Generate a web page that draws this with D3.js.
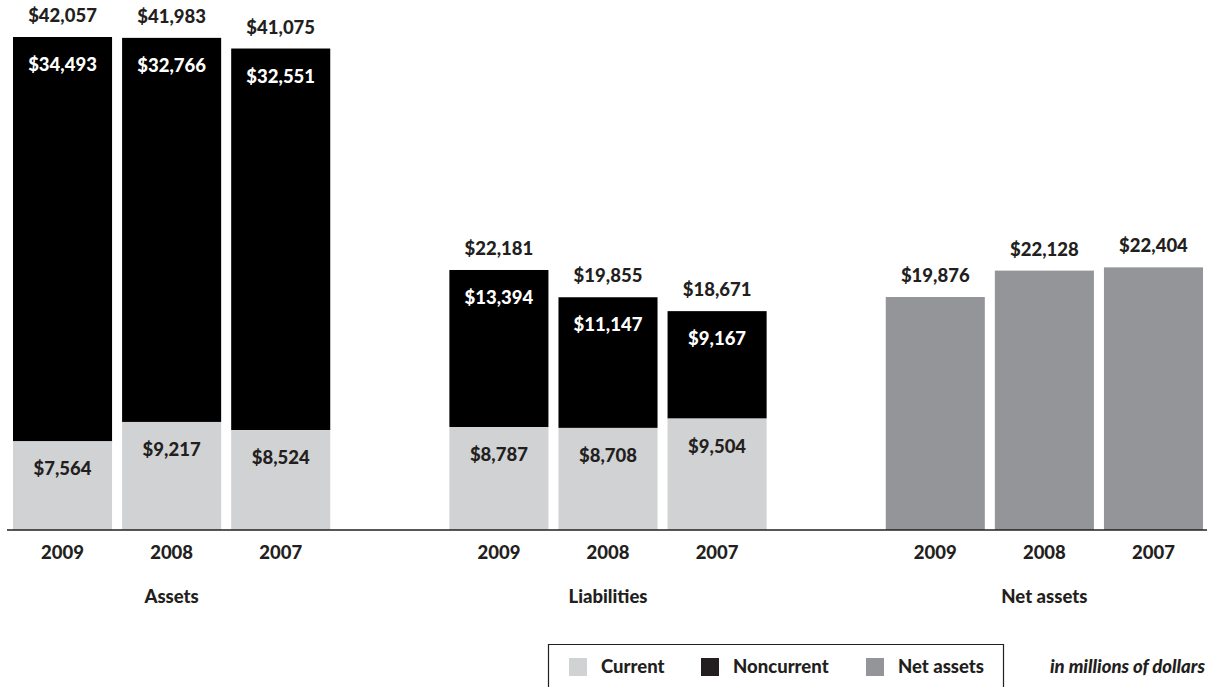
<!DOCTYPE html>
<html lang="en">
<head>
  <meta charset="utf-8">
  <title>Assets, liabilities and net assets</title>
  <script src="https://d3js.org/d3.v7.min.js"></script>
  <style>
    body { margin: 0; background: #fff; }
    text { font-family: Lato, "Open Sans", sans-serif; font-weight: 900; fill: #231f20; }
  </style>
</head>
<body>
<script>
// values (in millions of dollars)
var groups = ['Assets', 'Liabilities', 'Net assets'];
var years = ['2009', '2008', '2007'];
var assetsCurrent = [7564, 9217, 8524];
var assetsNoncurrent = [34493, 32766, 32551];
var assetsTotal = [42057, 41983, 41075];
var liabCurrent = [8787, 8708, 9504];
var liabNoncurrent = [13394, 11147, 9167];
var liabTotal = [22181, 19855, 18671];
var netAssets = [19876, 22128, 22404];
var legendItems = ['Current', 'Noncurrent', 'Net assets'];

var w = 1217, h = 687;
var colCurrent = '#d1d2d4', colNon = '#000000', colNet = '#939598';
var fmt = d3.format('$,');
var fs = '18.5px';

var svg = d3.select('body').append('svg')
  .attr('width', w)
  .attr('height', h);

// outer scale for the three groups, inner scale for the years
var x0 = d3.scaleBand().domain(groups).range([13, 1203]).paddingInner(0.273);
var x1 = d3.scaleBand().domain(years).range([0, x0.bandwidth()]).paddingInner(0.092);

var y = d3.scaleLinear().domain([0, 42057]).range([530, 37]);
var base = y(0);

// stacked groups
var stacked = [
  { group: 'Assets', cur: assetsCurrent, non: assetsNoncurrent, tot: assetsTotal },
  { group: 'Liabilities', cur: liabCurrent, non: liabNoncurrent, tot: liabTotal }
];

stacked.forEach(function(s) {
  var g = svg.append('g').attr('transform', 'translate(' + x0(s.group) + ',0)');
  years.forEach(function(yr, i) {
    var bx = x1(yr), bw = x1.bandwidth();
    var cx = bx + bw / 2;
    // noncurrent sits on top of current
    g.append('rect')
      .attr('x', bx).attr('width', bw)
      .attr('y', y(s.tot[i]))
      .attr('height', y(s.cur[i]) - y(s.tot[i]))
      .attr('fill', colNon);
    g.append('rect')
      .attr('x', bx).attr('width', bw)
      .attr('y', y(s.cur[i]))
      .attr('height', base - y(s.cur[i]))
      .attr('fill', colCurrent);
    g.append('text')
      .attr('x', cx).attr('y', y(s.tot[i]) - 15)
      .attr('text-anchor', 'middle').style('font-size', fs)
      .text(fmt(s.tot[i]));
    g.append('text')
      .attr('x', cx).attr('y', y(s.tot[i]) + 34)
      .attr('text-anchor', 'middle').style('font-size', fs)
      .style('fill', '#fff')
      .text(fmt(s.non[i]));
    g.append('text')
      .attr('x', cx).attr('y', y(s.cur[i]) + 34)
      .attr('text-anchor', 'middle').style('font-size', fs)
      .text(fmt(s.cur[i]));
  });
});

// net assets, plain bars
var gn = svg.append('g').attr('transform', 'translate(' + x0('Net assets') + ',0)');
gn.selectAll('rect')
  .data(netAssets)
  .enter()
  .append('rect')
  .attr('x', function(d, i) { return x1(years[i]); })
  .attr('width', x1.bandwidth())
  .attr('y', function(d) { return y(d); })
  .attr('height', function(d) { return base - y(d); })
  .attr('fill', colNet);
gn.selectAll('text')
  .data(netAssets)
  .enter()
  .append('text')
  .attr('x', function(d, i) { return x1(years[i]) + x1.bandwidth() / 2; })
  .attr('y', function(d) { return y(d) - 15; })
  .attr('text-anchor', 'middle')
  .style('font-size', fs)
  .text(function(d) { return fmt(d); });

// baseline
svg.append('line')
  .attr('x1', 7).attr('x2', 1207)
  .attr('y1', base).attr('y2', base)
  .attr('stroke', '#231f20')
  .attr('stroke-width', 1.6);

// year and group labels
groups.forEach(function(gname) {
  years.forEach(function(yr) {
    svg.append('text')
      .attr('x', x0(gname) + x1(yr) + x1.bandwidth() / 2)
      .attr('y', 559)
      .attr('text-anchor', 'middle')
      .style('font-size', fs)
      .text(yr);
  });
  svg.append('text')
    .attr('x', x0(gname) + x0.bandwidth() / 2)
    .attr('y', 603)
    .attr('text-anchor', 'middle')
    .style('font-size', fs)
    .text(gname);
});

// legend
var legend = svg.append('g');
legend.append('path')
  .attr('d', 'M548.5,' + h + 'V644.5H1003.5V' + h)
  .attr('fill', 'none')
  .attr('stroke', '#231f20')
  .attr('stroke-width', 1.2);
var legendX = [569, 701, 866];
var legendCol = [colCurrent, '#231f20', colNet];
legendItems.forEach(function(name, i) {
  legend.append('rect')
    .attr('x', legendX[i]).attr('y', 658)
    .attr('width', 18).attr('height', 18)
    .attr('fill', legendCol[i]);
  legend.append('text')
    .attr('x', legendX[i] + 32).attr('y', 673)
    .style('font-size', fs)
    .text(name);
});
svg.append('text')
  .attr('x', 1205).attr('y', 673)
  .attr('text-anchor', 'end')
  .style('font-size', fs)
  .style('font-style', 'italic')
  .text('in millions of dollars');
</script>
</body>
</html>
